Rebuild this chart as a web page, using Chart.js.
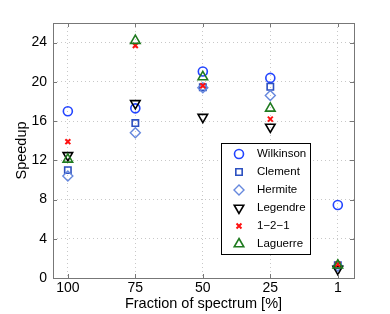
<!DOCTYPE html>
<html>
<head>
<meta charset="utf-8">
<script src="https://cdn.jsdelivr.net/npm/chart.js@4"></script>
<style>
  html, body { margin: 0; padding: 0; background: #fff; }
  #wrap { width: 390px; height: 314px; }
</style>
</head>
<body>
<div id="wrap"><canvas id="speedup-chart" width="390" height="314"></canvas></div>
<script>
const xLabels = ["100", "75", "50", "25", "1"];
const yTicks = [0, 4, 8, 12, 16, 20, 24];

const wilkinson = [17.0, 17.3, 21.05, 20.4, 7.45];
const clement = [11.0, 15.8, 19.45, 19.5, 1.3];
const hermite = [10.4, 14.8, 19.4, 18.6, 1.2];
const legendre = [12.5, 17.8, 16.4, 15.4, 0.9];
const oneTwoOne = [13.9, 23.7, 19.6, 16.2, 1.4];
const laguerre = [12.1, 24.2, 20.5, 17.3, 1.3];

const series = [
  { label: "Wilkinson", data: wilkinson, color: "#2244ff", style: "circle", radius: 4.5, rotation: 0, width: 1.6 },
  { label: "Clement", data: clement, color: "#2c50c0", style: "rect", radius: 4.5, rotation: 0, width: 1.6 },
  { label: "Hermite", data: hermite, color: "#6688dd", style: "rectRot", radius: 5, rotation: 0, width: 1.4 },
  { label: "Legendre", data: legendre, color: "#000000", style: "triangle", radius: 5.5, rotation: 180, width: 1.6 },
  { label: "1\u22122\u22121", data: oneTwoOne, color: "#ff1010", style: "crossRot", radius: 3.5, rotation: 0, width: 2 },
  { label: "Laguerre", data: laguerre, color: "#1f7a1f", style: "triangle", radius: 5.5, rotation: 0, width: 1.6 },
];

const frameColor = "#777777";
const font = "Liberation Sans, Arial, Helvetica, sans-serif";

// matlab style box with inward ticks plus the inset legend
const boxPlugin = {
  id: "box",
  afterDatasetsDraw(chart) {
    const { ctx, chartArea: a, scales } = chart;
    ctx.save();
    ctx.strokeStyle = frameColor;
    ctx.lineWidth = 1;
    ctx.strokeRect(a.left + 0.5, a.top + 0.5, a.right - a.left, a.bottom - a.top);
    ctx.beginPath();
    yTicks.forEach(v => {
      const y = Math.round(scales.y.getPixelForValue(v)) + 0.5;
      ctx.moveTo(a.left, y); ctx.lineTo(a.left + 4, y);
      ctx.moveTo(a.right, y); ctx.lineTo(a.right - 4, y);
    });
    xLabels.forEach((l, i) => {
      const x = Math.round(scales.x.getPixelForValue(i)) + 0.5;
      ctx.moveTo(x, a.bottom); ctx.lineTo(x, a.bottom - 4);
      ctx.moveTo(x, a.top); ctx.lineTo(x, a.top + 4);
    });
    ctx.stroke();

    // legend
    const lx = 221, ly = 143, lw = 89, lh = 111;
    ctx.fillStyle = "#fff";
    ctx.fillRect(lx, ly, lw, lh);
    ctx.strokeStyle = "#000";
    ctx.strokeRect(lx + 0.5, ly + 0.5, lw, lh);
    ctx.font = "11.5px " + font;
    ctx.textBaseline = "middle";
    series.forEach((s, i) => {
      const y = ly + 11 + i * 18;
      ctx.strokeStyle = s.color;
      ctx.fillStyle = "rgba(0,0,0,0)";
      ctx.lineWidth = s.width;
      Chart.helpers.drawPoint(ctx, { pointStyle: s.style, radius: s.radius, rotation: s.rotation, borderWidth: s.width }, 239, y);
      ctx.fillStyle = "#000";
      ctx.fillText(s.label, 257, y);
    });
    ctx.restore();
  }
};

new Chart(document.getElementById("speedup-chart"), {
  type: "scatter",
  data: {
    datasets: series.map((s, i) => ({
      label: s.label,
      data: s.data.map((v, j) => ({ x: j, y: v })),
      pointStyle: s.style,
      pointRadius: s.radius,
      pointRotation: s.rotation,
      pointBorderWidth: s.width,
      borderColor: s.color,
      pointBackgroundColor: "rgba(0,0,0,0)",
      order: series.length - i,
    })),
  },
  options: {
    responsive: false,
    animation: false,
    layout: { padding: { top: 23, right: 36, left: 0, bottom: 0 } },
    plugins: { legend: { display: false }, tooltip: { enabled: false } },
    scales: {
      x: {
        type: "linear",
        min: -0.22,
        max: 4.24,
        afterBuildTicks: scale => { scale.ticks = xLabels.map((l, i) => ({ value: i })); },
        afterFit: scale => { scale.height = 36; },
        ticks: {
          callback: v => xLabels[v],
          color: "#000",
          font: { family: font, size: 14 },
          padding: 2,
          maxRotation: 0,
        },
        grid: { color: "#c8c8c8", drawTicks: false },
        border: { display: false, dash: [1, 3] },
        title: {
          display: true,
          text: "Fraction of spectrum [%]",
          color: "#000",
          font: { family: font, size: 14.5 },
          padding: { top: 0, bottom: 1 },
        },
      },
      y: {
        min: 0,
        max: 26,
        afterBuildTicks: scale => { scale.ticks = yTicks.map(v => ({ value: v })); },
        afterFit: scale => { scale.width = 53; },
        ticks: {
          color: "#000",
          font: { family: font, size: 14 },
          padding: 6,
        },
        grid: { color: "#c8c8c8", drawTicks: false },
        border: { display: false, dash: [1, 3] },
        title: {
          display: true,
          text: "Speedup",
          color: "#000",
          font: { family: font, size: 14.5 },
          padding: { top: 13, bottom: 0 },
        },
      },
    },
  },
  plugins: [boxPlugin],
});
</script>
</body>
</html>
